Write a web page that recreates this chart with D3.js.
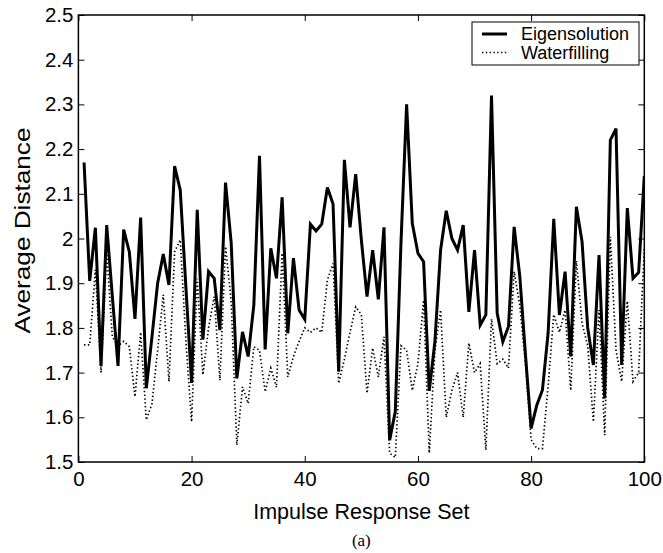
<!DOCTYPE html>
<html><head><meta charset="utf-8">
<script src="https://cdn.jsdelivr.net/npm/d3@7/dist/d3.min.js"></script>
<style>body{margin:0;background:#fff}svg{display:block}</style>
</head><body>
<svg id="c" width="663" height="553"></svg>
<script>
const xTicks = [0, 20, 40, 60, 80, 100];
const yTicks = [1.5, 1.6, 1.7, 1.8, 1.9, 2.0, 2.1, 2.2, 2.3, 2.4, 2.5];
const seriesNames = ["Eigensolution", "Waterfilling"];
const eigensolution = [
  2.17, 1.905, 2.024, 1.715, 2.03, 1.87, 1.715, 2.02, 1.97, 1.82,
  2.047, 1.665, 1.78, 1.90, 1.965, 1.896, 2.162, 2.108, 1.89, 1.677,
  2.064, 1.774, 1.926, 1.911, 1.795, 2.125, 1.99, 1.687, 1.791, 1.736,
  1.851, 2.185, 1.752, 1.978, 1.911, 2.092, 1.788, 1.956, 1.84, 1.819,
  2.032, 2.017, 2.032, 2.114, 2.077, 1.702, 2.176, 2.025, 2.144, 1.997,
  1.87, 1.974, 1.864, 2.025, 1.549, 1.613, 1.99, 2.30, 2.034, 1.967,
  1.948, 1.659, 1.77, 1.974, 2.062, 2.0, 1.974, 2.03, 1.836, 1.974,
  1.806, 1.829, 2.32, 1.833, 1.769, 1.803, 2.026, 1.915, 1.74, 1.575,
  1.627, 1.661, 1.788, 2.044, 1.829, 1.926, 1.736, 2.071, 1.993, 1.80,
  1.717, 1.963, 1.642, 2.22, 2.246, 1.717, 2.068, 1.911, 1.924, 2.14
];
const waterfilling = [
  1.762, 1.762, 1.93, 1.70, 1.97, 1.78, 1.76, 1.77, 1.758, 1.646,
  1.79, 1.594, 1.63, 1.75, 1.874, 1.68, 1.97, 1.997, 1.77, 1.59,
  1.91, 1.695, 1.80, 1.87, 1.683, 1.982, 1.86, 1.538, 1.668, 1.631,
  1.758, 1.75, 1.657, 1.71, 1.667, 1.967, 1.69, 1.736, 1.77, 1.80,
  1.79, 1.80, 1.79, 1.907, 1.944, 1.676, 1.73, 1.79, 1.847, 1.83,
  1.654, 1.755, 1.69, 1.78, 1.52, 1.51, 1.76, 1.75, 1.66, 1.72,
  1.862, 1.52, 1.75, 1.84, 1.60, 1.66, 1.70, 1.60, 1.766, 1.70,
  1.72, 1.527, 1.82, 1.72, 1.73, 1.71, 1.926, 1.85, 1.72, 1.55,
  1.53, 1.53, 1.67, 1.83, 1.79, 1.84, 1.66, 1.95, 1.81, 1.76,
  1.59, 1.84, 1.56, 2.004, 1.75, 1.68, 1.86, 1.68, 1.70, 1.98
];
const idx = d3.range(1, 101);

const svg = d3.select("#c");
const L = 78.4, R = 644.3, T = 15, B = 462;
const x = d3.scaleLinear().domain([0, 100]).range([L, R]);
const y = d3.scaleLinear().domain([1.5, 2.5]).range([B, T]);
const font = "'Liberation Sans', Arial, Helvetica, sans-serif";

svg.append("clipPath").attr("id", "clip").append("rect")
  .attr("x", L).attr("y", T).attr("width", R - L).attr("height", B - T);

const fmt = d => (Math.abs(d - 2) < 1e-9 ? "2" : d3.format(".1f")(d));

const axB = svg.append("g").attr("transform", `translate(0,${B})`)
  .call(d3.axisBottom(x).tickValues(xTicks).tickSize(-6).tickSizeOuter(0).tickPadding(8));
const axT = svg.append("g").attr("transform", `translate(0,${T})`)
  .call(d3.axisTop(x).tickValues(xTicks).tickSize(-6).tickSizeOuter(0).tickFormat(""));
const axL = svg.append("g").attr("transform", `translate(${L},0)`)
  .call(d3.axisLeft(y).tickValues(yTicks).tickSize(-6).tickSizeOuter(0).tickFormat(fmt).tickPadding(5));
const axR = svg.append("g").attr("transform", `translate(${R},0)`)
  .call(d3.axisRight(y).tickValues(yTicks).tickSize(-6).tickSizeOuter(0).tickFormat(""));
[axB, axT, axL, axR].forEach(a => {
  a.select(".domain").remove();
  a.selectAll("line").attr("stroke", "#000").attr("stroke-width", 1);
  a.selectAll("text").attr("fill", "#000").style("font-family", font).style("font-size", "20.5px");
});
axB.selectAll("text").attr("dy", "0.8em");

svg.append("rect").attr("x", L).attr("y", T).attr("width", R - L).attr("height", B - T)
  .attr("fill", "none").attr("stroke", "#000").attr("stroke-width", 1.5);

const line = d3.line().x((d, i) => x(idx[i])).y(d => y(d));
const g = svg.append("g").attr("clip-path", "url(#clip)");
g.append("path").datum(waterfilling).attr("d", line)
  .attr("fill", "none").attr("stroke", "#000").attr("stroke-width", 1.7)
  .attr("stroke-dasharray", "1.4,2.4");
g.append("path").datum(eigensolution).attr("d", line)
  .attr("fill", "none").attr("stroke", "#000").attr("stroke-width", 3)
  .attr("stroke-linejoin", "miter").attr("stroke-miterlimit", 4);

const lg = svg.append("g");
lg.append("rect").attr("x", 472).attr("y", 22).attr("width", 167).attr("height", 43)
  .attr("fill", "#fff").attr("stroke", "#000").attr("stroke-width", 1);
const styles = [{w: 3, dash: null}, {w: 1.7, dash: "1.4,2.4"}];
seriesNames.forEach((n, i) => {
  const cy = 34 + i * 18.5;
  lg.append("line").attr("x1", 482).attr("x2", 507).attr("y1", cy).attr("y2", cy)
    .attr("stroke", "#000").attr("stroke-width", styles[i].w)
    .attr("stroke-dasharray", styles[i].dash);
  lg.append("text").attr("x", 521).attr("y", cy).attr("dy", "0.35em")
    .style("font-family", font).style("font-size", "18px").text(n);
});

svg.append("text").attr("x", (L + R) / 2).attr("y", 519).attr("text-anchor", "middle")
  .style("font-family", font).style("font-size", "21.5px").text("Impulse Response Set");
svg.append("text").attr("transform", `translate(30,${(T + B) / 2 - 8}) rotate(-90)`)
  .attr("text-anchor", "middle").attr("textLength", 206).attr("lengthAdjust", "spacingAndGlyphs")
  .style("font-family", font).style("font-size", "22px").text("Average Distance");
svg.append("text").attr("x", (L + R) / 2).attr("y", 546).attr("text-anchor", "middle")
  .style("font-family", "'Liberation Serif', 'Times New Roman', serif").style("font-size", "17px").text("(a)");
</script>
</body></html>
